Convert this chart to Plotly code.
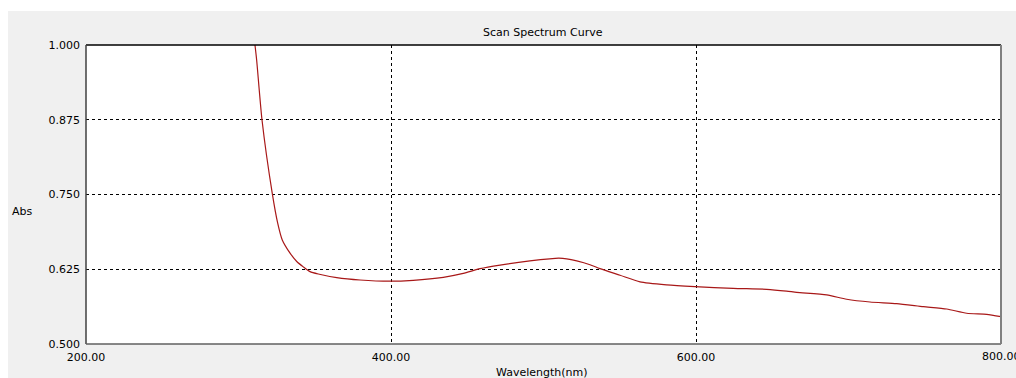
import plotly.graph_objects as go

# Absorbance scan, 200-800 nm
wavelength = [310.8, 311.9, 315.4, 322.2, 325.7, 328.7, 333.8, 338.2, 342.5, 346.9,
              352.3, 364.4, 379.7, 399.3, 414.6, 434.3, 447.4, 458.4, 471.5, 491.1,
              504.0, 510.0, 515.2, 521.8, 530.5, 537.0, 550.2, 563.3, 580.8, 599.3, 624.4,
              646.3, 659.4, 666.0, 685.7, 698.8, 714.1, 731.6, 749.1, 764.4, 777.5,
              790.6, 800.0]
absorbance = [1.000, 0.975, 0.875, 0.751, 0.702, 0.674, 0.652, 0.638, 0.629, 0.621,
              0.617, 0.611, 0.607, 0.605, 0.6065, 0.6115, 0.618, 0.626, 0.632, 0.639,
              0.6425, 0.6435, 0.6425, 0.639, 0.6326, 0.626, 0.615, 0.604, 0.599, 0.596, 0.593,
              0.5915, 0.5885, 0.5864, 0.582, 0.5748, 0.5702, 0.5674, 0.5624, 0.5585, 0.5514,
              0.5497, 0.5457]

x_ticks = [200, 400, 600, 800]
y_ticks = [0.500, 0.625, 0.750, 0.875, 1.000]

chart_title = "Scan Spectrum Curve"
x_title = "Wavelength(nm)"
y_title = "Abs"

W, H = 1016, 378
L, R, T, B = 86, 15, 45, 34
pw, ph = W - L - R, H - T - B


def px_x(p):
    return (p - L) / pw


def px_y(p):
    return (H - B - p) / ph


font = dict(family="DejaVu Sans", size=11, color="#000000")

fig = go.Figure()
fig.add_trace(go.Scatter(
    x=wavelength, y=absorbance, mode="lines",
    line=dict(color="#A81818", width=1.2, shape="spline", smoothing=0.6),
    hoverinfo="x+y", showlegend=False,
))

grid = dict(showgrid=True, gridcolor="#000000", gridwidth=1, griddash="3px,3px",
            zeroline=False, showline=False, ticks="", tickfont=font)

fig.update_xaxes(range=[200, 800], tickvals=x_ticks,
                 ticktext=[f"{v:.2f}" for v in x_ticks],
                 ticklabelstandoff=5, **grid)
fig.update_yaxes(range=[0.5, 1.0], tickvals=y_ticks,
                 ticktext=[f"{v:.3f}" for v in y_ticks],
                 ticklabelstandoff=5, **grid)

shapes = [
    # white strips around the grey panel
    dict(type="rect", xref="paper", yref="paper", x0=px_x(-5), x1=px_x(W + 5),
         y0=px_y(11), y1=px_y(-5), fillcolor="#FFFFFF", line_width=0, layer="below"),
    dict(type="rect", xref="paper", yref="paper", x0=px_x(-5), x1=px_x(8),
         y0=px_y(H + 5), y1=px_y(-5), fillcolor="#FFFFFF", line_width=0, layer="below"),
    # sunken frame of the plot area
    dict(type="line", xref="paper", yref="paper", x0=0, x1=1, y0=1, y1=1,
         line=dict(color="#000000", width=1.5)),
    dict(type="line", xref="paper", yref="paper", x0=0, x1=0, y0=0, y1=1,
         line=dict(color="#404040", width=1.5)),
    dict(type="line", xref="paper", yref="paper", x0=0, x1=1, y0=0, y1=0,
         line=dict(color="#606060", width=1.5)),
    dict(type="line", xref="paper", yref="paper", x0=1, x1=1, y0=0, y1=1,
         line=dict(color="#808080", width=2)),
]

annotations = [
    dict(text=chart_title, xref="paper", yref="paper", x=px_x(543), y=px_y(32),
         xanchor="center", yanchor="middle", showarrow=False, font=font),
    dict(text=x_title, xref="paper", yref="paper", x=px_x(542), y=px_y(372),
         xanchor="center", yanchor="middle", showarrow=False, font=font),
    dict(text=y_title, xref="paper", yref="paper", x=px_x(23), y=px_y(211),
         xanchor="center", yanchor="middle", showarrow=False, font=font),
    # last x tick label sits on the frame edge and runs off the panel
    dict(text=f"{x_ticks[-1]:.2f}", xref="x", yref="paper", x=x_ticks[-1], y=px_y(356),
         xanchor="center", yanchor="middle", showarrow=False, font=font),
]

fig.update_layout(
    width=W, height=H,
    margin=dict(l=L, r=R, t=T, b=B, autoexpand=False),
    paper_bgcolor="#F0F0F0", plot_bgcolor="#FFFFFF",
    shapes=shapes, annotations=annotations,
    font=font,
)

fig.write_html("out.html")
